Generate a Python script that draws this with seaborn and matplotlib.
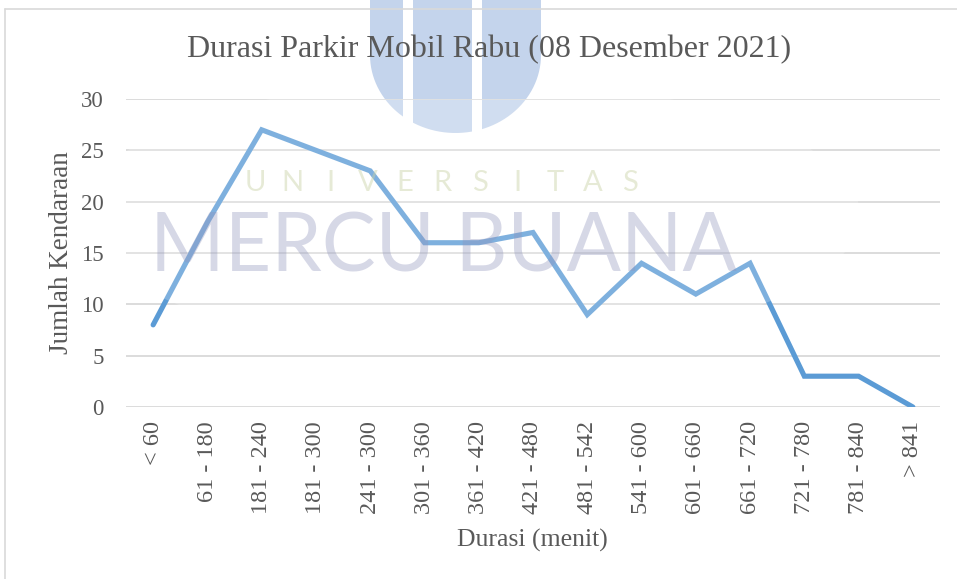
import numpy as np
import pandas as pd
import seaborn as sns
import matplotlib.pyplot as plt
from matplotlib.patches import Ellipse, Polygon, Rectangle

# Parking-duration categories (minutes) and number of cars in each
categories = ["< 60", "61 - 180", "181 - 240", "181 - 300", "241 - 300",
              "301 - 360", "361 - 420", "421 - 480", "481 - 542", "541 - 600",
              "601 - 660", "661 - 720", "721 - 780", "781 - 840", "> 841"]
vehicles = [8, 18, 27, 25, 23, 16, 16, 17, 9, 14, 11, 14, 3, 3, 0]
y_ticks = [0, 5, 10, 15, 20, 25, 30]

title = "Durasi Parkir Mobil Rabu (08 Desember 2021)"
x_label = "Durasi (menit)"
y_label = "Jumlah Kendaraan"

sns.set_theme(style="white")
plt.rcParams["font.family"] = ["Liberation Serif", "DejaVu Serif"]

TEXT = "#595959"
GRID = "#D9D9D9"
LINE = "#5B9BD5"

df = pd.DataFrame({"pos": np.arange(len(categories)), "count": vehicles})

W, H = 957, 579
fig = plt.figure(figsize=(W / 100, H / 100), dpi=100)
fig.patch.set_facecolor("white")


def fx(px):
    return px / W


def fy(py):
    return 1 - py / H


# university logo behind the chart: a shield split into three stripes
t = np.linspace(np.pi, 2 * np.pi, 60)
cx, rx, top_straight, bottom = 455.5, 85.5, 55, 133
shield = [(cx - rx, -5)] + [(cx + rx * np.cos(a), top_straight - (bottom - top_straight) * np.sin(a))
                             for a in t] + [(cx + rx, -5)]
fig.add_artist(Polygon([(fx(x), fy(y)) for x, y in shield], closed=True,
                       facecolor="#C4D4EC", edgecolor="none", zorder=-3))
for g0, g1 in [(403, 413), (472, 482)]:
    fig.add_artist(Rectangle((fx(g0), fy(140)), fx(g1 - g0), 150 / H,
                             facecolor="white", edgecolor="none", zorder=-2))

# chart frame (left and top edges visible)
fig.add_artist(plt.Line2D([fx(5), fx(5)], [0, fy(9)], color=GRID, lw=1.2, zorder=-1))
fig.add_artist(plt.Line2D([fx(5), 1], [fy(9), fy(9)], color=GRID, lw=1.2, zorder=-1))

ax = fig.add_axes([fx(126), fy(407), (940 - 126) / W, (407 - 99) / H])
ax.set_facecolor("none")

sns.lineplot(data=df, x="pos", y="count", ax=ax, color=LINE, linewidth=3.7,
             solid_capstyle="round", solid_joinstyle="miter", zorder=3)

ax.set_xlim(-0.5, len(categories) - 0.5)
ax.set_ylim(0, 30)
ax.set_yticks(y_ticks)
ax.set_yticklabels([str(v) for v in y_ticks], fontsize=16.5, color=TEXT)
ax.set_xticks(df["pos"])
ax.set_xticklabels(categories, rotation=90, fontsize=17.5, color=TEXT)
ax.tick_params(axis="x", length=0, pad=10)
ax.tick_params(axis="y", length=0, pad=16)
ax.yaxis.grid(True, color=GRID, lw=1.3)
ax.set_axisbelow(True)
for s in ax.spines.values():
    s.set_visible(False)
ax.set_xlabel("")
ax.set_ylabel("")

fig.text(fx(489), fy(50), title, ha="center", va="center",
         fontsize=23, color=TEXT)
fig.text(fx(532), fy(540), x_label, ha="center", va="center",
         fontsize=18.5, color=TEXT)
fig.text(fx(62), fy(253), y_label, ha="center", va="center",
         rotation=90, fontsize=19.5, color=TEXT)

# watermark haze (kept inside the plot area) and lettering over the plot
haze = Ellipse((fx(470), fy(215)), 780 / W, 270 / H, transform=fig.transFigure,
               facecolor="white", edgecolor="none", alpha=0.22, zorder=5)
ax.add_artist(haze)
haze.set_clip_path(ax.patch)
letters = "UNIVERSITAS"
for i, ch in enumerate(letters):
    xpos = 255 + i * (630 - 255) / (len(letters) - 1)
    fig.text(fx(xpos), fy(183), ch, ha="center", va="center", fontsize=21,
             color="#C9D2A6", alpha=0.45, family="Lato", zorder=6)
fig.text(fx(443), fy(249), "MERCU BUANA", ha="center", va="center",
         fontsize=58, color="#8F93BC", alpha=0.36, family="Lato", zorder=6)

fig.savefig("out.png", dpi=100, facecolor="white")
